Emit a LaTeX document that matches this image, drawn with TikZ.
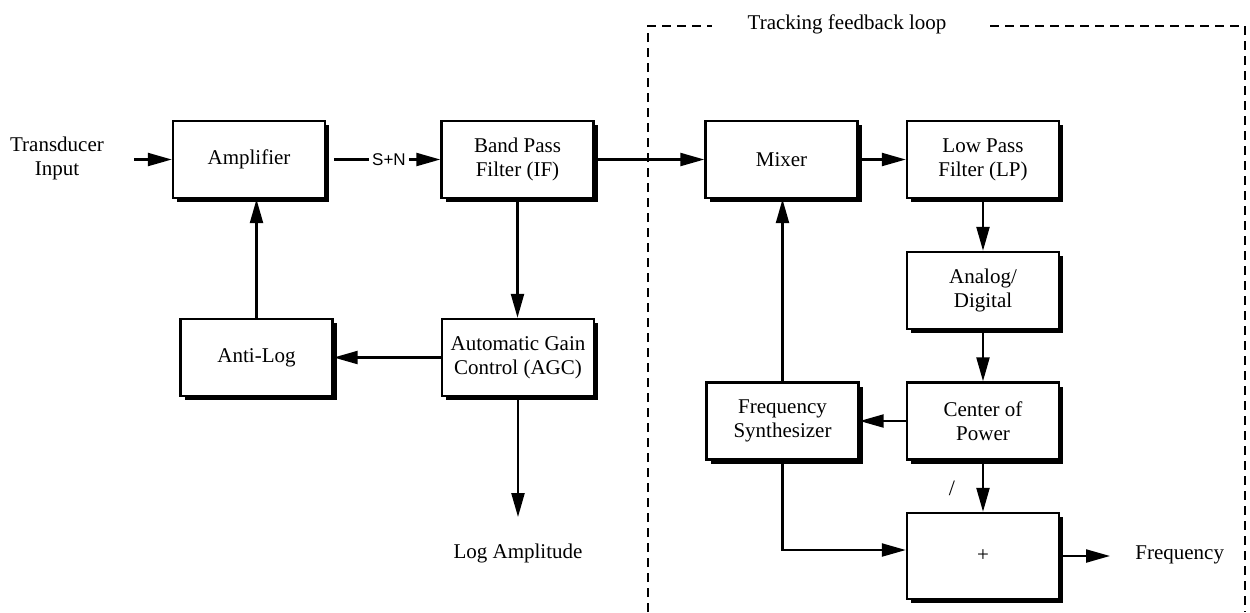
\documentclass[tikz,border=0pt]{standalone}
\usepackage{fontspec}
\setmainfont{Liberation Serif}
\newfontfamily\sansf{Liberation Sans}
\usetikzlibrary{arrows.meta,shadows}
\begin{document}
\begin{tikzpicture}[x=0.5pt,y=-0.5pt,
  font=\fontsize{10.5}{12}\selectfont,
  blk/.style={draw, line width=1.2pt, fill=white, minimum width=76pt, minimum height=38.5pt,
    align=center, inner sep=2pt,
    drop shadow={shadow xshift=2pt, shadow yshift=-2pt, opacity=1, fill=black}},
  conn/.style={line width=1.1pt, -{Triangle[length=12pt,width=6.5pt]}},
  lbl/.style={inner sep=0pt, align=center},
  loopline/.style={line width=1.2pt, dash pattern=on 4.5pt off 3pt}]
\useasboundingbox (0,0) rectangle (1250,612);

% nodes
\node[lbl] (tin) at (57,158) {Transducer\\Input};
\node[blk] (amp) at (249,159.5) {Amplifier};
\node[blk] (bpf) at (517.5,159.5) {Band Pass\\Filter (IF)};
\node[blk] (mix) at (781.5,159.5) {Mixer};
\node[blk] (lpf) at (983,159.5) {Low Pass\\Filter (LP)};
\node[blk] (ad) at (983,290.5) {Analog/\\Digital};
\node[blk] (cop) at (983,421) {Center of\\Power};
\node[blk] (fs) at (782.5,421) {Frequency\\Synthesizer};
\node[blk, minimum height=43pt] (plus) at (983,556) {+};
\node[blk] (al) at (256.5,357.5) {Anti-Log};
\node[blk] (agc) at (518,357.5) {Automatic Gain\\Control (AGC)};
\node[lbl] (la) at (518,553) {Log Amplitude};
\node[lbl, anchor=west] (freq) at (1135,555) {Frequency};
\node[lbl] (tfl) at (847,24) {Tracking feedback loop};
\node[lbl, font=\fontsize{11}{12}\selectfont] (sl) at (952,488) {/};

% connectors
\draw[conn] ([xshift=15pt]tin.east |- amp.west) -- (amp.west);
\draw[conn, shorten <=4pt] (amp) -- node[pos=0.55, fill=white, inner sep=1.5pt, font=\sansf\fontsize{8.5}{10}\selectfont]{S+N} (bpf);
\draw[conn] (bpf) -- (mix);
\draw[conn] (mix) -- (lpf);
\draw[conn] (lpf) -- (ad);
\draw[conn] (ad) -- (cop);
\draw[conn] (cop) -- (fs);
\draw[conn] (fs.north) -- (fs.north |- mix.south);
\draw[conn] (cop) -- (plus);
\draw[conn] (fs.south) |- ([yshift=3pt]plus.west);
\draw[conn, shorten >=12.5pt] (plus.east) -- (plus.east -| freq.west);
\draw[conn] (bpf.south) -- (bpf.south |- agc.north);
\draw[conn] (agc) -- (al);
\draw[conn] (al.north) -- (al.north |- amp.south);
\draw[conn, shorten >=13pt] (agc.south) -- (agc.south |- la.north);

% tracking loop frame
\draw[loopline] (648,612) -- (648,26) -- (712,26);
\draw[loopline] (990,26) -- (1245,26) -- (1245,612);
\end{tikzpicture}
\end{document}
